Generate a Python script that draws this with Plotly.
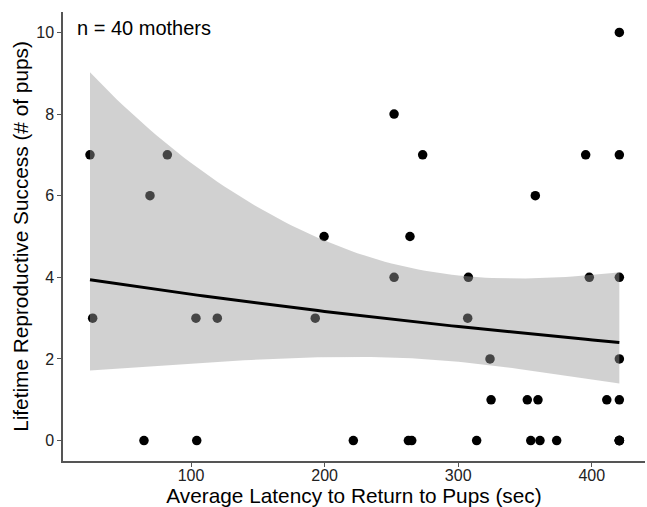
import math
import numpy as np
import plotly.graph_objects as go

# Data (latency in sec, # of pups); 40 mothers,
# the last three overlap the visible dot at the 420 s cap.
latency = [420.6, 252.0,
           24.4, 82.3, 273.4, 395.4, 420.6,
           69.3, 357.7,
           199.6, 263.9,
           252.0, 307.6, 398.1, 420.6,
           26.4, 103.7, 119.7, 193.0, 307.1,
           323.8, 420.6,
           324.6, 351.7, 359.7, 411.2, 420.6,
           64.8, 104.3, 221.5, 262.7, 265.2, 313.8, 354.3, 361.2, 373.7, 420.6,
           420.6, 420.6, 420.6]
pups = [10, 8,
        7, 7, 7, 7, 7,
        6, 6,
        5, 5,
        4, 4, 4, 4,
        3, 3, 3, 3, 3,
        2, 2,
        1, 1, 1, 1, 1,
        0, 0, 0, 0, 0, 0, 0, 0, 0, 0,
        0, 0, 0]

x_ticks = [100, 200, 300, 400]
y_ticks = [0, 2, 4, 6, 8, 10]

x = np.array(latency, dtype=float)
y = np.array(pups, dtype=float)
X = np.column_stack([np.ones_like(x), x])


def irls(theta, beta):
    for _ in range(200):
        eta = X @ beta
        mu = np.exp(eta)
        W = mu / (1.0 + mu / theta)
        z = eta + (y - mu) / mu
        XtW = X.T * W
        new = np.linalg.solve(XtW @ X, XtW @ z)
        if np.max(np.abs(new - beta)) < 1e-12:
            return new
        beta = new
    return beta


def nb_loglik(theta, mu):
    return sum(math.lgamma(yi + theta) - math.lgamma(theta) - math.lgamma(yi + 1)
               + theta * math.log(theta / (theta + mi)) + yi * math.log(mi / (theta + mi))
               for yi, mi in zip(y, mu))


# Negative binomial GLM (log link), theta by maximum likelihood
beta = np.array([math.log(y.mean()), 0.0])
theta = 1.0
for _ in range(50):
    beta = irls(theta, beta)
    mu = np.exp(X @ beta)
    a, b = math.log(0.01), math.log(1000.0)
    g = (math.sqrt(5) - 1) / 2
    for _ in range(100):
        c = b - g * (b - a)
        d = a + g * (b - a)
        if nb_loglik(math.exp(c), mu) > nb_loglik(math.exp(d), mu):
            b = d
        else:
            a = c
    new_theta = math.exp((a + b) / 2)
    if abs(new_theta - theta) < 1e-8:
        theta = new_theta
        break
    theta = new_theta
beta = irls(theta, beta)
mu = np.exp(X @ beta)
W = mu / (1.0 + mu / theta)
cov = np.linalg.inv((X.T * W) @ X)

xg = np.linspace(x.min(), x.max(), 80)
Xg = np.column_stack([np.ones_like(xg), xg])
eta_g = Xg @ beta
se_g = np.sqrt(np.einsum("ij,jk,ik->i", Xg, cov, Xg))
zc = 1.959964
fit = np.exp(eta_g)
lo = np.exp(eta_g - zc * se_g)
hi = np.exp(eta_g + zc * se_g)

fig = go.Figure()
fig.add_trace(go.Scatter(x=latency, y=pups, mode="markers",
                         marker=dict(color="black", size=9.5, line=dict(width=0)),
                         hoverinfo="x+y", showlegend=False))
fig.add_trace(go.Scatter(x=xg, y=lo, mode="lines", line=dict(width=0),
                         showlegend=False, hoverinfo="skip"))
fig.add_trace(go.Scatter(x=xg, y=hi, mode="lines", line=dict(width=0),
                         fill="tonexty", fillcolor="rgba(153,153,153,0.45)",
                         showlegend=False, hoverinfo="skip"))
fig.add_trace(go.Scatter(x=xg, y=fit, mode="lines",
                         line=dict(color="black", width=3),
                         showlegend=False, hoverinfo="skip"))

fig.add_annotation(x=0, y=1, xref="paper", yref="paper",
                   text="n = 40 mothers", showarrow=False,
                   xanchor="left", yanchor="middle", xshift=12, yshift=-16,
                   font=dict(size=20, color="black"))

fig.update_layout(
    width=647, height=507,
    margin=dict(l=63, r=2, t=12, b=46),
    paper_bgcolor="white", plot_bgcolor="white",
    font=dict(family="Liberation Sans, Arial, sans-serif", color="black"),
    xaxis=dict(range=[4.2, 439.8], tickvals=x_ticks, ticktext=[str(v) for v in x_ticks],
               showgrid=False, zeroline=False, showline=True, linecolor="#555555",
               linewidth=1.5, ticks="outside", ticklen=4, tickcolor="#555555",
               tickfont=dict(size=16, color="#222222"), automargin=False,
               ticklabelstandoff=-5,
               title=dict(text="Average Latency to Return to Pups (sec)",
                          font=dict(size=20.8, color="black"), standoff=3)),
    yaxis=dict(range=[-0.5, 10.5], tickvals=y_ticks, ticktext=[str(v) for v in y_ticks],
               showgrid=False, zeroline=False, showline=True, linecolor="#555555",
               linewidth=1.5, ticks="outside", ticklen=4, tickcolor="#555555",
               tickfont=dict(size=16, color="#222222"), automargin=False,
               title=dict(text="Lifetime Reproductive Success (# of pups)",
                          font=dict(size=20.8, color="black"), standoff=2)),
)

fig.write_html("out.html", config={"displayModeBar": False})
with open("out.html", "r", encoding="utf-8") as f:
    html = f.read()
html = html.replace("<head>", "<head><style>html,body{margin:0;padding:0;overflow:hidden;}</style>", 1)
with open("out.html", "w", encoding="utf-8") as f:
    f.write(html)
